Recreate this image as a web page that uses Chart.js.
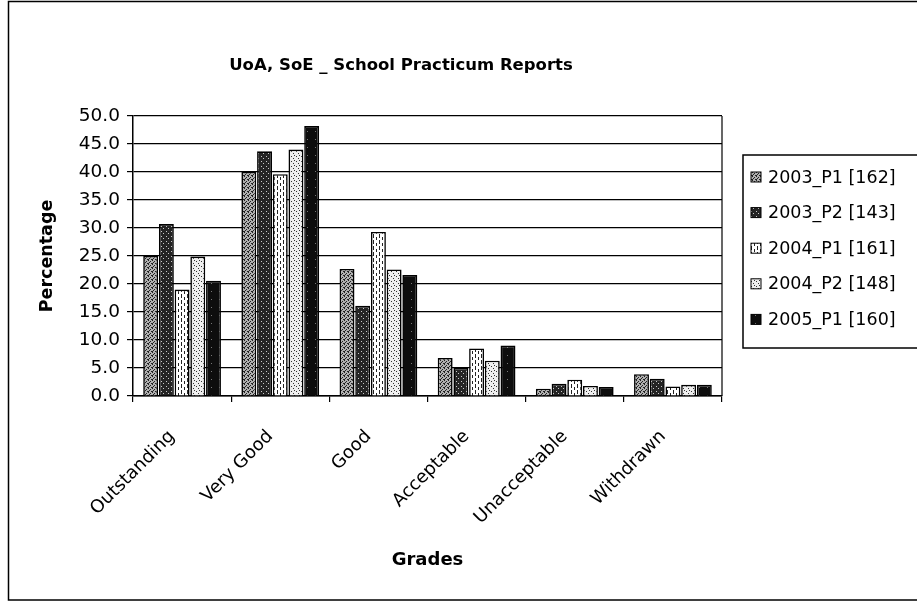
<!DOCTYPE html>
<html>
<head>
<meta charset="utf-8">
<title>UoA, SoE _ School Practicum Reports</title>
<script src="https://cdn.jsdelivr.net/npm/chart.js@4.4.1/dist/chart.umd.min.js"></script>
<style>
  html, body { margin: 0; padding: 0; background: #fff; }
  #wrap { width: 917px; height: 605px; }
</style>
</head>
<body>
<div id="wrap"><canvas id="practicumChart" width="917" height="605"></canvas></div>
<script>
// Data
const grades = ['Outstanding', 'Very Good', 'Good', 'Acceptable', 'Unacceptable', 'Withdrawn'];
const seriesNames = ['2003_P1 [162]', '2003_P2 [143]', '2004_P1 [161]', '2004_P2 [148]', '2005_P1 [160]'];
const p2003_1 = [25.0, 40.0, 22.7, 6.8, 1.3, 3.9];
const p2003_2 = [30.7, 43.7, 16.1, 5.0, 2.2, 3.1];
const p2004_1 = [19.0, 39.6, 29.3, 8.5, 2.9, 1.7];
const p2004_2 = [24.9, 44.0, 22.6, 6.3, 1.8, 2.0];
const p2005_1 = [20.6, 48.2, 21.6, 9.0, 1.6, 2.0];
const yTicks = [0, 5, 10, 15, 20, 25, 30, 35, 40, 45, 50];

const FONT = '"DejaVu Sans", Verdana, sans-serif';
Chart.defaults.font.family = FONT;
Chart.defaults.color = '#000';

const canvas = document.getElementById('practicumChart');
const ctx = canvas.getContext('2d');

// small bitmap tiles to imitate the printed hatch fills
function makePattern(bg, fg, size, pixels) {
  const tile = document.createElement('canvas');
  tile.width = size;
  tile.height = size;
  const g = tile.getContext('2d');
  g.fillStyle = bg;
  g.fillRect(0, 0, size, size);
  g.fillStyle = fg;
  pixels.forEach(p => g.fillRect(p[0], p[1], p[2] || 1, p[3] || 1));
  return ctx.createPattern(tile, 'repeat');
}

const fills = [
  makePattern('#b0b0b0', '#222', 4, [[0, 0], [2, 1], [1, 2], [3, 3], [0, 3]]),
  makePattern('#242424', '#c8c8c8', 5, [[1, 1], [3, 3]]),
  makePattern('#fff', '#222', 6, [[1, 0, 1, 4], [4, 3, 1, 4]]),
  makePattern('#eeeeee', '#333', 5, [[1, 1], [3, 3], [4, 0]]),
  makePattern('#0d0d0d', '#777', 8, [[3, 3]])
];
const seriesData = [p2003_1, p2003_2, p2004_1, p2004_2, p2005_1];

const datasets = seriesNames.map((name, i) => ({
  label: name,
  data: seriesData[i],
  backgroundColor: fills[i],
  borderColor: '#000',
  borderWidth: 1.6,
  categoryPercentage: 0.8,
  barPercentage: 0.95
}));

// frame, title, right border of plot and the boxed legend
const decorations = {
  id: 'decorations',
  afterDraw(chart) {
    const c = chart.ctx;
    const area = chart.chartArea;
    c.save();
    c.strokeStyle = '#000';
    c.lineWidth = 1.5;
    c.strokeRect(8.5, 1.5, 930, 598.5);

    c.lineWidth = 1.2;
    c.beginPath();
    c.moveTo(area.right, area.top);
    c.lineTo(area.right, area.bottom);
    c.stroke();

    c.fillStyle = '#000';
    c.font = 'bold 16.5px ' + FONT;
    c.textAlign = 'center';
    c.textBaseline = 'middle';
    c.fillText('UoA, SoE _ School Practicum Reports', 401, 66);

    // legend
    const lx = area.right + 21;
    const ly = 155;
    c.lineWidth = 1.5;
    c.strokeRect(lx, ly, 200, 193);
    c.font = '17.5px ' + FONT;
    c.textAlign = 'left';
    chart.data.datasets.forEach((ds, i) => {
      const y = ly + 22 + i * 35.6;
      c.fillStyle = ds.backgroundColor;
      c.fillRect(lx + 8, y - 5, 10, 10);
      c.lineWidth = 1;
      c.strokeRect(lx + 8, y - 5, 10, 10);
      c.fillStyle = '#000';
      c.fillText(ds.label, lx + 25, y + 1);
    });
    c.restore();
  }
};

new Chart(canvas, {
  type: 'bar',
  data: { labels: grades, datasets: datasets },
  plugins: [decorations],
  options: {
    responsive: false,
    animation: false,
    layout: { padding: { top: 116, right: 195, bottom: 20, left: 30 } },
    plugins: {
      legend: { display: false },
      title: { display: false },
      tooltip: { enabled: false }
    },
    scales: {
      x: {
        afterFit(scale) { scale.height = 189; },
        grid: { display: true, drawOnChartArea: false, color: '#000', tickLength: 6, lineWidth: 1.2 },
        border: { color: '#000', width: 1.5 },
        ticks: { font: { size: 18 }, color: '#000', minRotation: 45, maxRotation: 45, autoSkip: false, padding: 24, labelOffset: -10 },
        title: { display: true, text: 'Grades', font: { size: 18, weight: 'bold' }, color: '#000', padding: { top: 0, bottom: 14 } }
      },
      y: {
        min: yTicks[0],
        max: yTicks[yTicks.length - 1],
        afterFit(scale) { scale.width = 103; },
        grid: { color: '#000', lineWidth: 1.2, tickLength: 6 },
        border: { color: '#000', width: 1.5 },
        ticks: {
          stepSize: yTicks[1] - yTicks[0],
          font: { size: 18.5 },
          color: '#000',
          padding: 7,
          callback: v => v.toFixed(1)
        },
        title: { display: true, text: 'Percentage', font: { size: 17.5, weight: 'bold' }, color: '#000', padding: { top: 7, bottom: 0 } }
      }
    }
  }
});
</script>
</body>
</html>
